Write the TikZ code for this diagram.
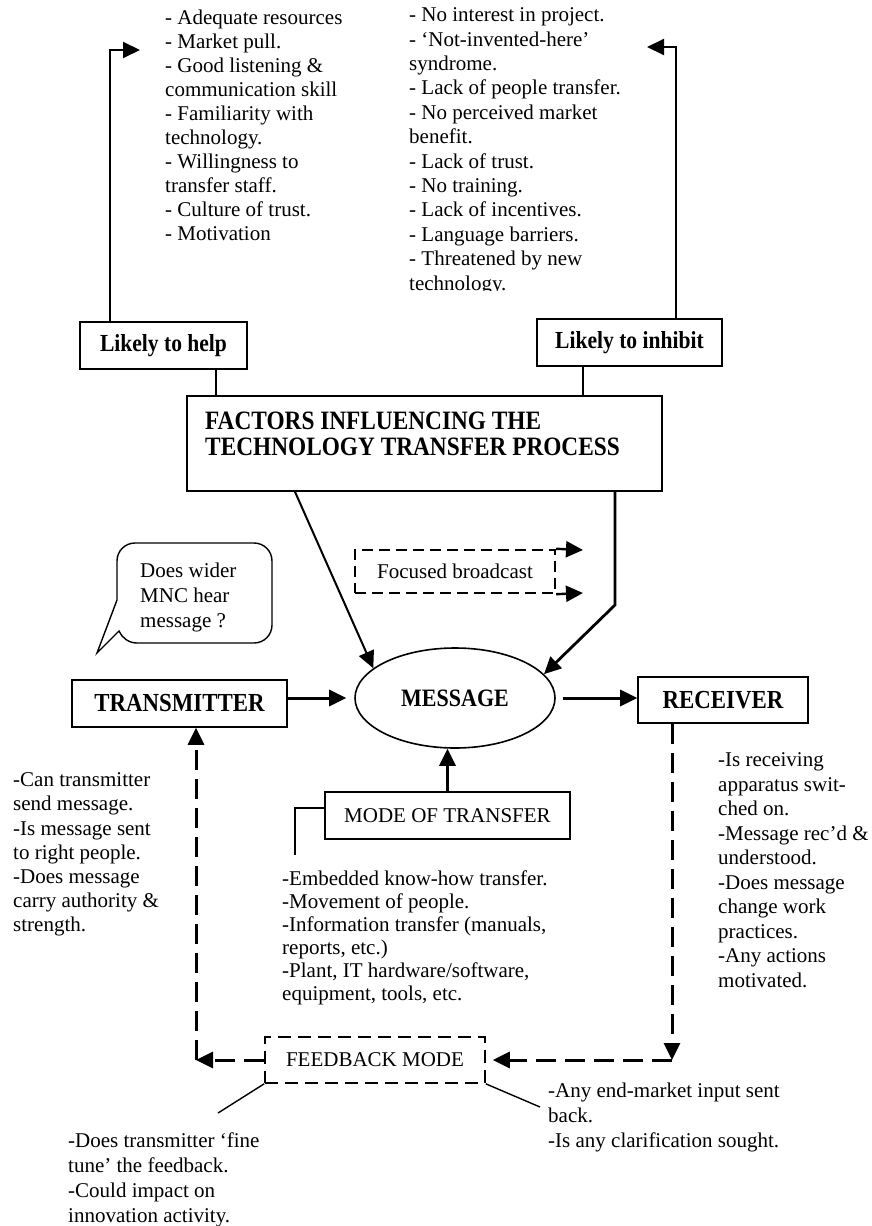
\documentclass[tikz,border=0pt]{standalone}
\usepackage{fontspec}
\setmainfont{Liberation Serif}
\newfontfamily\hfont[FakeStretch=0.88]{Liberation Serif}
\usetikzlibrary{arrows.meta,shapes.geometric}
\tikzset{
  tip/.style={-{Triangle[length=17pt,width=16pt]}},
  hbox/.style={draw, line width=1.6pt, inner sep=0pt, minimum height=47pt, font=\hfont\bfseries\fontsize{24.5}{26}\selectfont},
  pbox/.style={draw, line width=1.6pt, inner sep=0pt, minimum height=47pt, font=\fontsize{21}{24}\selectfont},
  txt/.style={inner sep=0pt, anchor=north west, align=left, font=\fontsize{21}{#1}\selectfont},
  darr/.style={line width=3pt, dash pattern=on 20pt off 9pt, -{Triangle[length=17pt,width=16pt]}},
  thin/.style={line width=1.4pt}
}
\begin{document}
\begin{tikzpicture}[x=1pt,y=-1pt]
\fill[white] (0,0) rectangle (872,1226);
\useasboundingbox (0,0) rectangle (872,1226);

% top lists
\node[txt=24] (helplist) at (165,9.5) {- Adequate resources\\- Market pull.\\- Good listening \&\\communication skill\\- Familiarity with\\technology.\\- Willingness to\\transfer staff.\\- Culture of trust.\\- Motivation};
\begin{scope}
\clip (380,0) rectangle (660,290);
\node[txt=24.4] (inhlist) at (409,7.5) {- No interest in project.\\- ‘Not-invented-here’\\syndrome.\\- Lack of people transfer.\\- No perceived market\\benefit.\\- Lack of trust.\\- No training.\\- Lack of incentives.\\- Language barriers.\\- Threatened by new\\technology.};
\end{scope}

% factor boxes
\node[hbox, minimum width=167pt] (help) at (163.5,345.5) {Likely to help};
\node[hbox, minimum width=185pt] (inhibit) at (629.5,342.5) {Likely to inhibit};
\node[draw, line width=1.6pt, minimum width=475pt, minimum height=95pt, inner sep=0pt] (factors) at (424.5,443.5) {};
\node[inner sep=0pt, anchor=west, align=left, font=\hfont\bfseries\fontsize{26.5}{26}\selectfont] (factorstext) at (205,434) {FACTORS INFLUENCING THE\\TECHNOLOGY TRANSFER PROCESS};

\coordinate (hc) at (110,50); \coordinate (ht) at (140,50);
\coordinate (ic) at (676,47); \coordinate (it) at (647,47);
\coordinate (hb) at (216,400); \coordinate (ib) at (583,400);
\draw[line width=2pt, tip] (help.north -| hc) -- (hc) -- (ht);
\draw[line width=2pt, tip] (inhibit.north -| ic) -- (ic) -- (it);
\draw[line width=2.4pt] (help.south -| hb) -- (factors.north -| hb);
\draw[line width=2.4pt] (inhibit.south -| ib) -- (factors.north -| ib);

% message
\node[draw, ellipse, line width=1.6pt, minimum width=200pt, minimum height=100pt, inner sep=0pt, font=\hfont\bfseries\fontsize{25}{26}\selectfont] (msg) at (455,698) {MESSAGE};
\coordinate (lx) at (295,0);
\coordinate (rc) at (615,605);
\draw[line width=2pt, tip] (factors.south -| lx) -- (msg.160);
\draw[line width=2.8pt, tip] (factors.south -| rc) -- (rc) -- (msg.15);

% focused broadcast
\node[draw, line width=2.4pt, dash pattern=on 11pt off 6pt, minimum width=200pt, minimum height=43pt, inner sep=0pt, font=\fontsize{21}{24}\selectfont] (focus) at (455,571.5) {Focused broadcast};
\coordinate (fa) at (583,550); \coordinate (fz) at (583,593);
\draw[line width=2.4pt, tip] (focus.north east) -- (fa);
\draw[line width=2.4pt, tip] (focus.south east) -- (fz);

% speech bubble
\draw[thin] (117,600) -- (117,561) .. controls (117,551) and (125,543) .. (135,543) -- (254,543) .. controls (264,543) and (272,551) .. (272,561) -- (272,625) .. controls (272,635) and (264,643) .. (254,643) -- (137,643) .. controls (129,643) and (122,638) .. (119,631) -- (97,653) -- cycle;
\node[txt=25] (bubbletext) at (140,562.5) {Does wider\\MNC hear\\message ?};

% transmitter / receiver
\node[hbox, minimum width=215pt, font=\hfont\bfseries\fontsize{26}{26}\selectfont] (trans) at (179.5,703.5) {TRANSMITTER};
\node[hbox, minimum width=170pt, minimum height=46pt, font=\hfont\bfseries\fontsize{26}{26}\selectfont] (recv) at (723,700) {RECEIVER};
\draw[line width=3pt, tip, shorten >=8pt] (trans.east |- msg.west) -- (msg.west);
\draw[line width=3pt, tip, shorten <=7pt] (msg.east) -- (msg.east -| recv.west);

\node[txt=24.2] (translist) at (13,772.5) {-Can transmitter\\send message.\\-Is message sent\\to right people.\\-Does message\\carry authority \&\\strength.};
\node[txt=24.5] (recvlist) at (718,752.5) {-Is receiving\\apparatus swit-\\ched on.\\-Message rec’d \&\\understood.\\-Does message\\change work\\practices.\\-Any actions\\motivated.};

% mode of transfer
\node[pbox, minimum width=245pt] (mode) at (447.5,815.5) {MODE OF TRANSFER};
\draw[line width=3pt, tip] (mode.north) -- (mode.north |- msg.south);
\coordinate (mbt) at (295,808); \coordinate (mbb) at (295,855);
\draw[thin] (mode.west |- mbt) -- (mbt) -- (mbb);
\node[txt=23] (modelist) at (282,870.5) {-Embedded know-how transfer.\\-Movement of people.\\-Information transfer (manuals,\\reports, etc.)\\-Plant, IT hardware/software,\\equipment, tools, etc.};

% feedback
\node[pbox, dash pattern=on 13pt off 7pt, minimum width=220pt, minimum height=46pt] (fb) at (375,1060) {FEEDBACK MODE};
\coordinate (fl) at (196,1060); \coordinate (fr) at (672,1060);
\draw[darr] (fb.west) -- (fl);
\draw[darr] (fl) -- (trans.south -| fl);
\draw[darr] (recv.south -| fr) -- (fr);
\draw[darr, shorten >=7pt] (fr) -- (fb.east);
\coordinate (sl) at (218,1113); \coordinate (sr) at (540,1107);
\draw[thin] (fb.south west) -- (sl);
\draw[thin] (fb.south east) -- (sr);

\node[txt=25] (fbllist) at (68,1132.5) {-Does transmitter ‘fine\\tune’ the feedback.\\-Could impact on\\innovation activity.};
\node[txt=25] (fbrlist) at (548,1082.5) {-Any end-market input sent\\back.\\-Is any clarification sought.};
\end{tikzpicture}
\end{document}
